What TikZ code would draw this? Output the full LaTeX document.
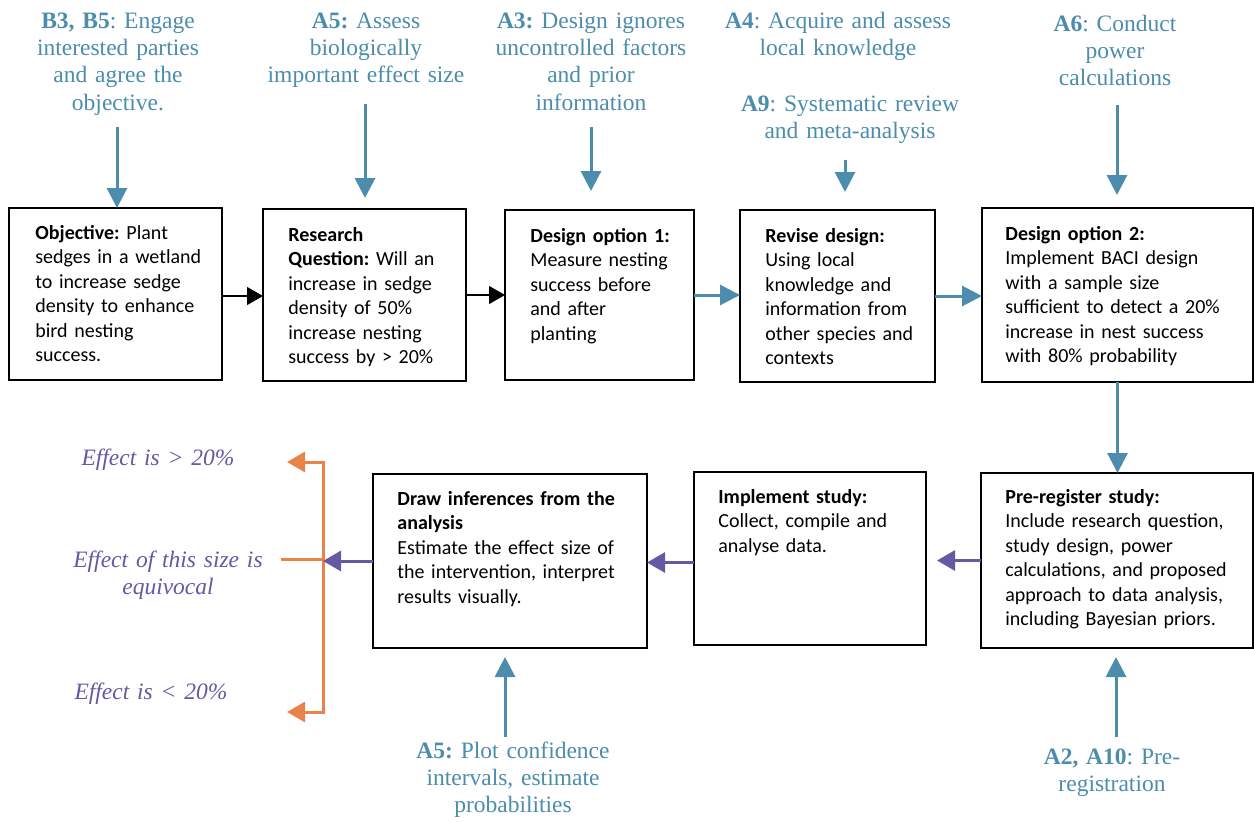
\documentclass[tikz,border=0pt]{standalone}
\usepackage{fontspec}
\setmainfont{Liberation Serif}
\newfontfamily\boxfont{Carlito}
\usetikzlibrary{arrows.meta,calc}
\definecolor{lblue}{RGB}{76,140,172}
\definecolor{lpurple}{RGB}{102,88,163}
\definecolor{lorange}{RGB}{232,132,74}
\frenchspacing
\begin{document}
\begin{tikzpicture}[x=0.5pt,y=-0.5pt,
  box/.style={draw=black,line width=1.2pt,fill=white,inner sep=0pt,outer sep=0pt,anchor=north west},
  btext/.style={inner sep=0pt,anchor=base west,text width=134pt,align=left,font=\boxfont\fontsize{10}{12.25}\selectfont\frenchspacing},
  lbl/.style={inner sep=0pt,anchor=base,text width=130pt,align=center,text=lblue,font=\fontsize{11.75}{13.7}\selectfont\frenchspacing},
  plbl/.style={inner sep=0pt,anchor=base,text width=130pt,align=center,text=lpurple,font=\itshape\fontsize{11.75}{13.7}\selectfont},
  barrow/.style={draw=lblue,line width=1.5pt,-{Triangle[width=10pt,length=10pt]}},
  karrow/.style={draw=black,line width=0.6pt,-{Triangle[width=9pt,length=8pt]}},
  parrow/.style={draw=lpurple,line width=1.5pt,-{Triangle[width=10pt,length=9pt]}},
  oline/.style={draw=lorange,line width=1.5pt},
]
\useasboundingbox (0,0) rectangle (1254,821);

% boxes
\node[box,minimum width=106.5pt,minimum height=86pt] (b1) at (9,208) {};
\node[box,minimum width=101.5pt,minimum height=86pt] (b2) at (263,209) {};
\node[box,minimum width=94.5pt,minimum height=85pt] (b3) at (505,210) {};
\node[box,minimum width=97.5pt,minimum height=86pt] (b4) at (740,210) {};
\node[box,minimum width=135.5pt,minimum height=87pt] (b5) at (982,208) {};
\node[box,minimum width=136pt,minimum height=87.5pt] (b6) at (981,473) {};
\node[box,minimum width=116pt,minimum height=86.5pt] (b7) at (694,472) {};
\node[box,minimum width=137pt,minimum height=87pt] (b8) at (373,474) {};

% box texts
\node[btext] (t1) at (35,239) {\textbf{Objective:} Plant\\sedges in a wetland\\to increase sedge\\density to enhance\\bird nesting\\success.};
\node[btext] (t2) at (288,241) {\textbf{Research}\\\textbf{Question:} Will an\\increase in sedge\\density of 50\%\\increase nesting\\success by > 20\%};
\node[btext] (t3) at (530,242) {\textbf{Design option 1:}\\Measure nesting\\success before\\and after\\planting};
\node[btext] (t4) at (765,242) {\textbf{Revise design:}\\Using local\\knowledge and\\information from\\other species and\\contexts};
\node[btext] (t5) at (1005,240) {\textbf{Design option 2:}\\Implement BACI design\\with a sample size\\sufficient to detect a 20\%\\increase in nest success\\with 80\% probability};
\node[btext] (t6) at (1005,503) {\textbf{Pre-register study:}\\Include research question,\\study design, power\\calculations, and proposed\\approach to data analysis,\\including Bayesian priors.};
\node[btext] (t7) at (718,503) {\textbf{Implement study:}\\Collect, compile and\\analyse data.};
\node[btext] (t8) at (397,505) {\textbf{Draw inferences from the}\\\textbf{analysis}\\Estimate the effect size of\\the intervention, interpret\\results visually.};

% blue labels
\node[lbl] (lB3) at (118,28) {\textbf{B3, B5}: Engage\\interested parties\\and agree the\\objective.};
\node[lbl] (lA5) at (366,28) {\textbf{A5:} Assess\\biologically\\important effect size};
\node[lbl] (lA3) at (591,28) {\textbf{A3:} Design ignores\\uncontrolled factors\\and prior\\information};
\node[lbl] (lA4) at (838,28) {\textbf{A4}: Acquire and assess\\local knowledge};
\node[lbl] (lA9) at (850,111) {\textbf{A9}: Systematic review\\and meta-analysis};
\node[lbl] (lA6) at (1115,31) {\textbf{A6}: Conduct\\power\\calculations};
\node[lbl] (lA5b) at (513,758) {\textbf{A5:} Plot confidence\\intervals, estimate\\probabilities};
\node[lbl] (lA2) at (1112,764) {\textbf{A2, A10}: Pre-\\registration};

% purple labels
\node[plbl] (e1) at (158,465) {Effect is > 20\%};
\node[plbl] (e2) at (168,567) {Effect of this size is\\equivocal};
\node[plbl] (e3) at (151,699) {Effect is < 20\%};

% arrow start coordinates
\coordinate (aB3) at (117,127);
\coordinate (aA5) at (365,104);
\coordinate (aA3) at (591,127);
\coordinate (aA9) at (845,160);
\coordinate (aA6) at (1117,105);
\coordinate (aA5b) at (505,737);
\coordinate (aA2) at (1116,737);

\draw[barrow] (aB3) -- (aB3 |- b1.north);
\draw[barrow,shorten >=5.5pt] (aA5) -- (aA5 |- b2.north);
\draw[barrow,shorten >=9.5pt] (aA3) -- (aA3 |- b3.north);
\draw[barrow,shorten >=9pt] (aA9) -- (aA9 |- b4.north);
\draw[barrow,shorten >=6.5pt] (aA6) -- (aA6 |- b5.north);
\draw[barrow,shorten >=4.5pt] (aA5b) -- (aA5b |- b8.south);
\draw[barrow,shorten >=4.5pt] (aA2) -- (aA2 |- b6.south);

% flow arrows
\draw[karrow] ([yshift=-1pt]b1.east) -- ([yshift=-1pt]b1.east -| b2.west);
\draw[karrow] (b2.east) -- (b2.east -| b3.west);
\draw[barrow] (b3.east) -- (b3.east -| b4.west);
\draw[barrow] (b4.east) -- (b4.east -| b5.west);
\draw[barrow] (b5.south) -- (b5.south |- b6.north);
\draw[parrow,shorten >=5.5pt] (b6.west) -- (b6.west -| b7.east);
\draw[parrow] ([yshift=-2pt]b7.west) -- ([yshift=-2pt]b7.west -| b8.east);

% bracket
\coordinate (br) at (323,559);
\coordinate (brtop) at (323,462);
\coordinate (brbot) at (323,712);
\coordinate (tipT) at (287,462);
\coordinate (tipB) at (287,712);
\coordinate (midL) at (281,559);
\draw[oline,{Triangle[width=10pt,length=9pt]}-{Triangle[width=10pt,length=9pt]}] (tipT) -- (brtop) -- (brbot) -- (tipB);
\draw[oline] (midL) -- (br);
\draw[parrow] (b8.west) -- (b8.west -| br);
\end{tikzpicture}
\end{document}
